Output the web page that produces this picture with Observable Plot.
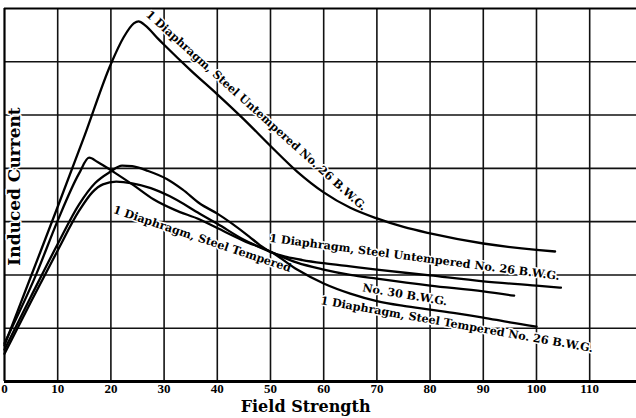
<!DOCTYPE html>
<html><head><meta charset="utf-8">
<script src="https://cdn.jsdelivr.net/npm/d3@7"></script>
<script src="https://cdn.jsdelivr.net/npm/@observablehq/plot@0.6"></script>
<style>body{margin:0;background:#fff}</style>
</head><body><div id="chart"></div>
<script>
// Field strength (x) vs induced current (y, grid units)
const untemperedUpperX = [0,5,10,15,20,22.4,24.3,25.2,26.5,28.8,30,35,40,45,50,55,60,65,70,75,80,90,100,103.5];
const untemperedUpperY = [0.68,1.98,3.28,4.6,5.96,6.46,6.72,6.76,6.68,6.44,6.32,5.84,5.39,4.92,4.42,3.94,3.55,3.26,3.06,2.9,2.78,2.59,2.47,2.44];

const temperedX = [0,6,10,14,15.9,17.5,20.7,24.3,28,32,36.7,40,45,50.3,55,60,65,70,75,80,85,90,95,100];
const temperedY = [0.72,2.02,3.02,3.9,4.2,4.12,3.92,3.68,3.42,3.22,3.04,2.88,2.64,2.42,2.1,1.84,1.65,1.51,1.42,1.35,1.28,1.2,1.11,1.03];

const untemperedLowerX = [0,5,10,14,17,19.8,22.1,24,27,30.5,33.5,36.7,40,46,48,50.3,53,56,60,65,70,80,90,100,104.6];
const untemperedLowerY = [0.6,1.6,2.58,3.32,3.72,3.93,4.05,4.04,3.95,3.8,3.6,3.34,3.15,2.72,2.56,2.42,2.34,2.28,2.22,2.16,2.1,1.99,1.88,1.8,1.76];

const no30X = [0,5,10,14,16.5,18.5,21,24,27.5,31,36.7,40,45,50.3,55,60,65,70,80,90,95.8];
const no30Y = [0.52,1.5,2.46,3.2,3.55,3.7,3.75,3.72,3.63,3.48,3.15,2.96,2.66,2.42,2.23,2.1,2.0,1.93,1.8,1.69,1.61];

const seriesNames = ["Untempered No. 26 (upper)", "Tempered No. 26", "Untempered No. 26 (lower)", "No. 30"];
const seriesX = [untemperedUpperX, temperedX, untemperedLowerX, no30X];
const seriesY = [untemperedUpperY, temperedY, untemperedLowerY, no30Y];

const xTicks = [0,10,20,30,40,50,60,70,80,90,100,110];
const xGrid = [10,20,30,40,50,60,70,80,90,100,110];
const yGrid = [1,2,3,4,5,6];

const labelTexts = [
  "1 Diaphragm, Steel Untempered No. 26 B.W.G.",
  "1 Diaphragm, Steel Tempered",
  "1 Diaphragm, Steel Untempered No. 26 B.W.G.",
  "No. 30 B.W.G.",
  "1 Diaphragm, Steel Tempered No. 26 B.W.G."
];
// label anchors (data units) and angles
const labelX = [26.9, 20.5, 49.8, 67.3, 59.4];
const labelY = [6.92, 3.23, 2.69, 1.76, 1.52];
const labelAngle = [42, 18.5, 7.5, 9.5, 10];

const rows = [];
seriesNames.forEach((s, i) => seriesX[i].forEach((x, j) => rows.push({series: s, x, y: seriesY[i][j]})));
const labels = labelTexts.map((t, i) => ({text: t, x: labelX[i], y: labelY[i], a: labelAngle[i]}));

const serif = "'DejaVu Serif', serif";
const chart = Plot.plot({
  width: 636, height: 418,
  marginLeft: 4, marginRight: 0, marginTop: 8, marginBottom: 37,
  x: {domain: [0, 118.8]},
  y: {domain: [0, 7], axis: null},
  style: {background: "white", color: "black"},
  marks: [
    Plot.ruleX(xGrid, {stroke: "#111", strokeWidth: 1.6}),
    Plot.ruleY(yGrid, {stroke: "#111", strokeWidth: 1.6}),
    Plot.ruleY([7], {stroke: "#000", strokeWidth: 2.2}),
    Plot.ruleX([0], {stroke: "#000", strokeWidth: 2.2}),
    Plot.text(labels, {x: "x", y: "y", text: "text", rotate: "a", textAnchor: "start",
      fontSize: 11.2, fontWeight: "bold", fontFamily: serif, fill: "black", stroke: "white", strokeWidth: 3}),
    Plot.text(["Induced Current"], {x: 1.9, y: 3.66, text: d => d, rotate: -90,
      fontSize: 17, fontWeight: "bold", fontFamily: serif, fill: "black", stroke: "white", strokeWidth: 3}),
    Plot.line(rows, {x: "x", y: "y", z: "series", curve: "monotone-x", stroke: "black", strokeWidth: 2.3}),
    Plot.ruleY([0], {stroke: "#000", strokeWidth: 3}),
    Plot.axisX({ticks: xTicks, tickSize: 0, tickPadding: 2, label: null, tickFormat: d => String(d),
      fontSize: 13, fontWeight: "bold", fontFamily: "'Liberation Serif', serif"}),
    Plot.text(["Field Strength"], {x: 56.6, frameAnchor: "bottom", dy: 30, text: d => d,
      fontSize: 16, fontWeight: "bold", fontFamily: serif, fill: "black"})
  ]
});
document.getElementById("chart").appendChild(chart);
</script>
</body></html>
